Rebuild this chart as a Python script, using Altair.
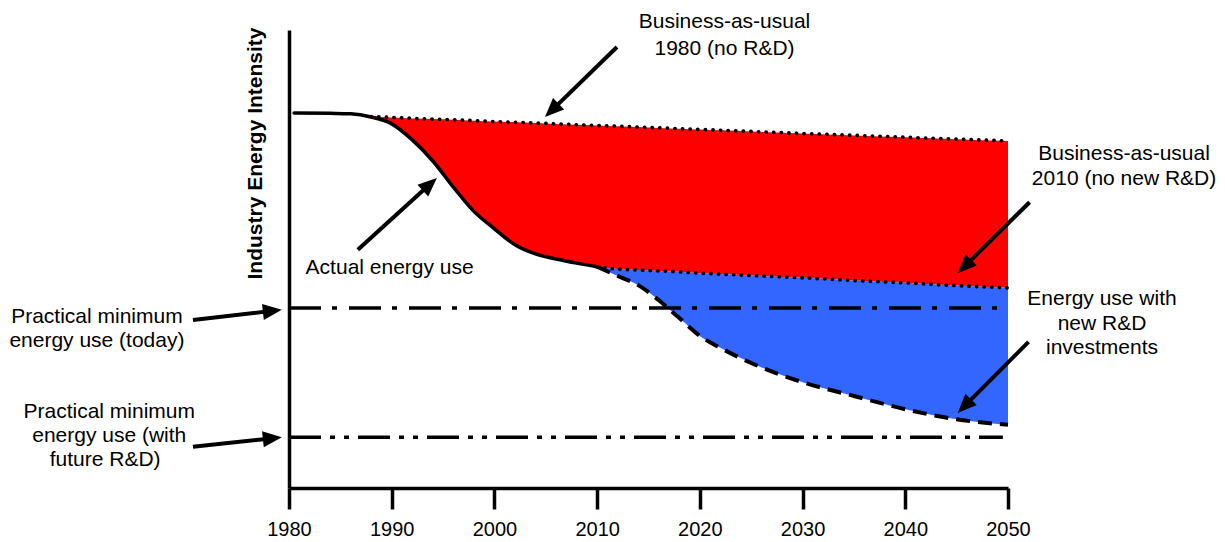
import math
import pandas as pd
import altair as alt

# ---------------- data ----------------
W, H = 719, 458
FONT = "Liberation Sans"
RED = "#FF0000"
BLUE = "#3366FF"

tick_years = [1980, 1990, 2000, 2010, 2020, 2030, 2040, 2050]

# Actual energy use (solid line)
actual_years = [1980.5, 1984, 1986, 1988, 1990, 1992, 1994, 1996, 1998, 2000, 2002, 2004, 2006, 2008, 2010]
actual_vals = [81.9, 81.8, 81.7, 81.0, 79.5, 76.0, 71.4, 65.7, 60.4, 56.6, 53.1, 51.1, 50.0, 49.1, 48.3]

# Business-as-usual 1980 (dotted line)
bau1980_years = [1988, 1990, 1992, 1994, 1996, 1998, 2000, 2002, 2004, 2006, 2008, 2010,
                 2012, 2014, 2016, 2018, 2020, 2022, 2025, 2030, 2035, 2040, 2045, 2050]
bau1980_vals = [81.1, 80.9, 80.7, 80.55, 80.4, 80.2, 80.0, 79.85, 79.7, 79.5, 79.3, 79.15,
                78.97, 78.8, 78.62, 78.45, 78.28, 78.1, 77.84, 77.4, 76.99, 76.57, 76.16, 75.76]

# Business-as-usual 2010 (dotted line)
bau2010_years = [2010, 2012, 2014, 2016, 2018, 2020, 2022, 2025, 2030, 2035, 2040, 2045, 2050]
bau2010_vals = [48.3, 47.8, 47.6, 47.4, 47.2, 46.9, 46.7, 46.4, 45.9, 45.3, 44.8, 44.2, 43.7]

# Energy use with new R&D investments (dashed line)
rnd_years = [2010, 2012, 2014, 2016, 2018, 2020, 2022, 2025, 2030, 2035, 2040, 2045, 2050]
rnd_vals = [48.3, 46.3, 44.3, 41.0, 37.1, 33.2, 30.6, 27.3, 23.1, 20.1, 17.2, 15.0, 13.8]

# Practical minimum levels (dash-dot lines)
min_today = 39.3
min_future = 11.1
min_today_end = 2049.2
min_future_end = 2049.5

# Annotations: text, x (year), y (value)
ann_text = ["Business-as-usual", "1980 (no R&D)",
            "Business-as-usual", "2010 (no new R&D)",
            "Energy use with", "new R&D", "investments",
            "Actual energy use",
            "Practical minimum", "energy use (today)",
            "Practical minimum", "energy use (with", "future R&D)"]
ann_x = [2022.4, 2022.4,
         2061.3, 2061.3,
         2059.15, 2059.15, 2059.15,
         1989.8,
         1961.3, 1961.3,
         1962.5, 1962.5, 1962.1]
ann_y = [100.37, 94.54,
         71.62, 66.16,
         39.96, 34.50, 29.26,
         46.72,
         36.03, 30.79,
         15.28, 10.04, 4.80]

# Arrows: tail (year, value) -> tip (year, value)
arrow_tail_x = [2011.93, 2052.1, 2052.0, 1986.7, 1970.65, 1970.65]
arrow_tail_y = [96.3, 62.4, 31.9, 52.0, 36.7, 9.0]
arrow_tip_x = [2004.92, 2045.1, 2045.1, 1994.4, 1979.3, 1979.3]
arrow_tip_y = [81.0, 46.9, 16.4, 67.7, 38.9, 11.1]

# ---------------- tables ----------------
actual_df = pd.DataFrame({"year": actual_years, "val": actual_vals})
bau1980_df = pd.DataFrame({"year": bau1980_years, "val": bau1980_vals})
bau2010_df = pd.DataFrame({"year": bau2010_years, "val": bau2010_vals})
rnd_df = pd.DataFrame({"year": rnd_years, "val": rnd_vals})

actual_map = dict(zip(actual_years, actual_vals))
bau2010_map = dict(zip(bau2010_years, bau2010_vals))
red_bottom = [actual_map[y] if y <= 2010 else bau2010_map[y] for y in bau1980_years]
red_df = pd.DataFrame({"year": bau1980_years, "val": bau1980_vals, "val2": red_bottom})
blue_df = pd.DataFrame({"year": bau2010_years, "val": bau2010_vals, "val2": rnd_vals})

levels_df = pd.DataFrame({
    "year": [1980, 1980],
    "year2": [min_today_end, min_future_end],
    "val": [min_today, min_future],
    "kind": ["today", "future"],
})

ann_df = pd.DataFrame({"year": ann_x, "val": ann_y, "label": ann_text})

X_DOM = (1980, 2050)
Y_DOM = (0, 100)


def to_px(yr, v):
    return ((yr - X_DOM[0]) / (X_DOM[1] - X_DOM[0]) * W,
            (1 - (v - Y_DOM[0]) / (Y_DOM[1] - Y_DOM[0])) * H)


def to_data(px, py):
    return (X_DOM[0] + px / W * (X_DOM[1] - X_DOM[0]),
            Y_DOM[0] + (1 - py / H) * (Y_DOM[1] - Y_DOM[0]))


HEAD_LEN = 19
shaft_rows, head_rows = [], []
for tx_, ty_, hx_, hy_ in zip(arrow_tail_x, arrow_tail_y, arrow_tip_x, arrow_tip_y):
    px0, py0 = to_px(tx_, ty_)
    px1, py1 = to_px(hx_, hy_)
    dx, dy = px1 - px0, py1 - py0
    L = math.hypot(dx, dy)
    ux, uy = dx / L, dy / L
    ex, ey = px1 - ux * HEAD_LEN * 0.6, py1 - uy * HEAD_LEN * 0.6
    e_year, e_val = to_data(ex, ey)
    shaft_rows.append({"year": tx_, "val": ty_, "year2": e_year, "val2": e_val})
    head_rows.append({"year": hx_, "val": hy_, "ang": math.degrees(math.atan2(dx, -dy)) % 360})
shaft_df = pd.DataFrame(shaft_rows)
head_df = pd.DataFrame(head_rows)

# ---------------- encodings ----------------
x_axis = alt.Axis(values=tick_years, format="d", title="", grid=False,
                  labelFontSize=20, labelFont=FONT, labelColor="black",
                  labelPadding=10, labelFlush=False, labelOverlap=False,
                  tickSize=21, tickWidth=3.5, tickColor="black",
                  domainColor="black", domainWidth=3.5, zindex=1)
y_axis = alt.Axis(title="Industry Energy Intensity", titleAngle=270,
                  titleX=-28, titleY=123, titleAlign="center", titleBaseline="alphabetic",
                  titleFont=FONT, titleFontSize=21, titleFontWeight="bold", titleColor="black",
                  labels=False, ticks=False, grid=False,
                  domainColor="black", domainWidth=3.5, zindex=1)

X = alt.X("year:Q", scale=alt.Scale(domain=list(X_DOM), nice=False, zero=False), axis=x_axis)
Y = alt.Y("val:Q", scale=alt.Scale(domain=list(Y_DOM), nice=False, zero=False), axis=y_axis)

red_area = alt.Chart(red_df).mark_area(color=RED, interpolate="monotone", opacity=1).encode(
    x=X, y=Y, y2=alt.Y2("val2:Q"))
blue_area = alt.Chart(blue_df).mark_area(color=BLUE, interpolate="monotone", opacity=1).encode(
    x=X, y=Y, y2=alt.Y2("val2:Q"))

today_rule = alt.Chart(levels_df[levels_df.kind == "today"]).mark_rule(
    color="black", strokeWidth=3.5, strokeDash=[32, 11, 5, 12]).encode(
    x=X, x2=alt.X2("year2:Q"), y=Y)
future_rule = alt.Chart(levels_df[levels_df.kind == "future"]).mark_rule(
    color="black", strokeWidth=3.5, strokeDash=[32, 9, 5, 9, 5, 9]).encode(
    x=X, x2=alt.X2("year2:Q"), y=Y)

actual_line = alt.Chart(actual_df).mark_line(
    color="black", strokeWidth=3.5, interpolate="monotone", strokeCap="round").encode(x=X, y=Y)
bau1980_line = alt.Chart(bau1980_df).mark_line(
    color="black", strokeWidth=3.8, interpolate="monotone", strokeCap="round",
    strokeDash=[0.1, 7.5]).encode(x=X, y=Y)
bau2010_line = alt.Chart(bau2010_df).mark_line(
    color="black", strokeWidth=3.8, interpolate="monotone", strokeCap="round",
    strokeDash=[0.1, 7.5]).encode(x=X, y=Y)
rnd_line = alt.Chart(rnd_df).mark_line(
    color="black", strokeWidth=4, interpolate="monotone", strokeDash=[14, 8]).encode(x=X, y=Y)

shafts = alt.Chart(shaft_df).mark_rule(color="black", strokeWidth=4).encode(
    x=X, y=Y, x2=alt.X2("year2:Q"), y2=alt.Y2("val2:Q"))
heads = alt.Chart(head_df).mark_point(
    shape="M0,0L-0.84,2L0.84,2Z", filled=True, size=HEAD_LEN * HEAD_LEN,
    color="black", opacity=1, strokeWidth=0).encode(
    x=X, y=Y, angle=alt.Angle("ang:Q", scale=None))

texts = alt.Chart(ann_df).mark_text(
    font=FONT, fontSize=21, color="black", align="center", baseline="alphabetic").encode(
    x=X, y=Y, text="label:N")

chart = alt.layer(
    red_area, blue_area, today_rule, future_rule,
    actual_line, bau1980_line, bau2010_line, rnd_line,
    shafts, heads, texts,
).properties(
    width=W, height=H,
    padding={"left": 281, "top": 22, "right": 209, "bottom": 54},
    autosize=alt.AutoSizeParams(type="none"),
    background="white",
).configure_view(stroke="transparent")

chart.save("out.html", embed_options={"renderer": "svg", "actions": False})
